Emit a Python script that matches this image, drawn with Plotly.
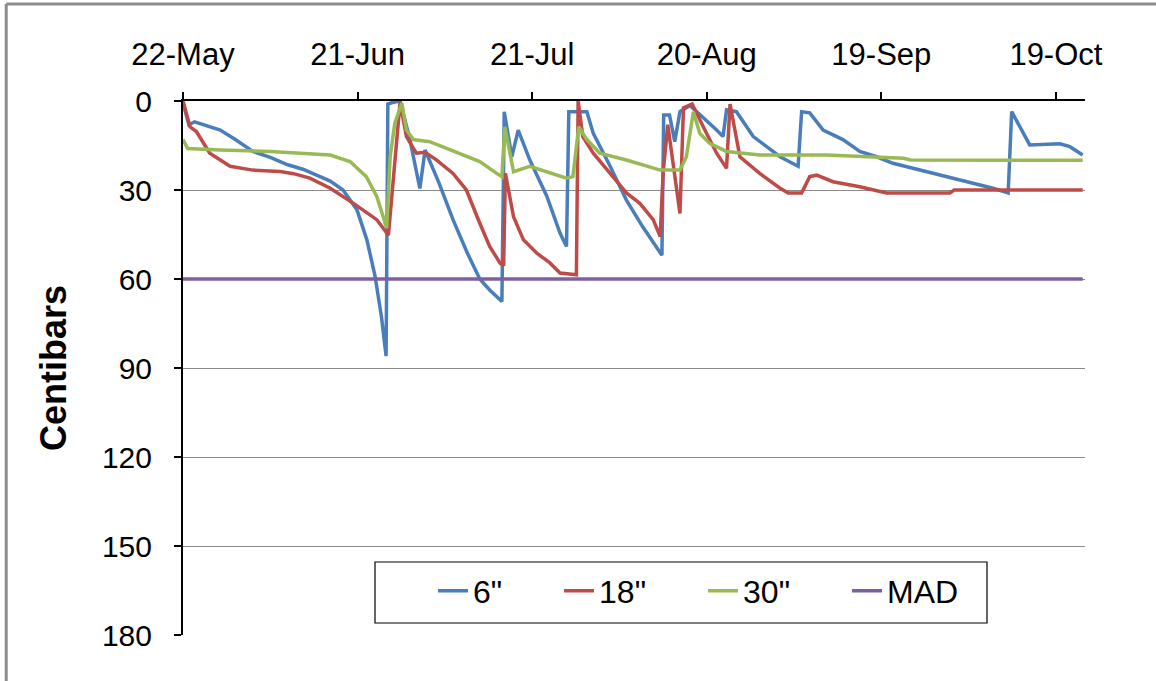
import pandas as pd
import plotly.graph_objects as go

START = "2012-05-22"

# days after 22-May, centibar readings
days_6 = [0, 1, 2, 3.5, 6.4, 9, 12, 15, 18, 20.6, 23, 25.3, 27.5, 29.9, 31.6, 33, 34.1, 34.9,
          35.2, 36, 37.3, 38, 39, 40.7, 41.6, 44, 46.4, 48.8, 51, 52.7, 54.8, 55.2, 56.5, 57.6,
          59.6, 62.5, 64.8, 65.9, 66.3, 69.4, 70.5, 73.4, 76.2, 79, 82, 82.3, 82.6, 83.6, 84.5,
          85.4, 87.1, 89.3, 91.7, 92.8, 93.4, 95.1, 98, 102.6, 105.7, 106.3, 107.7, 110, 113.4,
          116.3, 119.2, 122, 127.8, 133.5, 139.2, 141.8, 142.4, 145.5, 150.7, 152.4, 154.6]
vals_6 = [0.5, 8, 7, 8, 9.8, 13, 17, 19, 21.5, 23, 25, 27, 30, 36.7, 46.8, 59, 72.7, 86,
          1, 0.5, 0, 5, 13, 29.5, 16.5, 27.7, 40, 51, 60, 63.7, 67.6, 3.6, 18.8, 9.8,
          19.9, 32, 44.6, 49, 3.6, 3.6, 10.9, 22, 33.4, 42.4, 51.3, 52, 4.7, 4.7, 13.7,
          3.6, 1.5, 5.3, 9.8, 12, 3, 3.6, 12, 18.8, 22, 3.6, 4, 9.8, 13,
          17, 18.8, 21, 23.8, 26.6, 29.4, 31, 3.6, 14.8, 14.4, 15.4, 18.2]

days_18 = [0, 1.2, 2.3, 4.6, 8.1, 12, 16.7, 19, 21.8, 25.3, 29.3, 33.3, 35.3, 37.3, 38.4, 40.1,
           41.6, 43.6, 46.4, 48.7, 51, 52.7, 54.5, 55.1, 55.4, 56.8, 58.5, 60.8, 63, 64.8, 67.6,
           67.9, 68.7, 70.5, 73.4, 76.2, 78.5, 80.8, 82, 82.5, 83.3, 85.4, 86, 87.5, 89.4, 91.7,
           93.4, 94, 95.7, 99.1, 102.6, 104, 106.3, 107.7, 108.9, 111.7, 116.3, 120.9, 131.8,
           132.5, 154.6]
vals_18 = [0, 8.7, 10.3, 17.6, 22, 23.3, 23.8, 24.5, 26, 29.4, 34.5, 40, 45.2, 0.5, 12, 17.6,
           17.3, 19.9, 24.4, 30, 41.2, 49, 54.7, 55.5, 24.4, 39, 46.8, 51.3, 54.5, 58, 58.6,
           0, 12, 17.6, 24.4, 31, 34.5, 40, 45.7, 24.4, 8, 37.9, 2.3, 1, 8.7, 17.6,
           22.7, 1, 18.8, 24.4, 29.4, 31, 31, 25.5, 25, 27.2, 28.9, 31, 31,
           30, 30]

days_30 = [0, 0.8, 6.4, 15, 25.3, 28.7, 31.5, 33.3, 34.4, 35, 35.6, 36.4, 37.6, 38.4, 39.6, 42.4,
           45.3, 48.2, 51, 53.9, 54.8, 55.3, 56.8, 59.6, 62.5, 65.9, 67, 68, 69.4, 71.6, 76.2,
           82, 85.4, 86.5, 87.7, 88.8, 90.5, 93.4, 99.1, 110.6, 123.8, 125, 154.6]
vals_30 = [13, 16, 16.5, 17, 18.2, 20.4, 25.5, 32.2, 39, 42.9, 18.8, 7.5, 0.7, 9.8, 13, 13.7,
           16, 18.2, 20.4, 24.4, 25.5, 8.7, 23.8, 22, 23.8, 26, 25.5, 8.7, 13, 17.6, 19.9,
           23.3, 23.3, 18.8, 3.6, 10.9, 14.3, 17, 18.2, 18.2, 19.3, 19.9, 20]

days_mad = [0, 154.6]
vals_mad = [60, 60]

series_names = ['6"', '18"', '30"', 'MAD']
series_colors = ["#4A7EBB", "#BE4B48", "#98B954", "#7D60A0"]
legend_widths = [81, 99, 99, 90]
y_ticks = [0, 30, 60, 90, 120, 150, 180]


def to_dates(days):
    return pd.Timestamp(START) + pd.to_timedelta(days, unit="D")


fig = go.Figure()
for name, color, lw, d, v in zip(series_names, series_colors, legend_widths,
                                 [days_6, days_18, days_30, days_mad],
                                 [vals_6, vals_18, vals_30, vals_mad]):
    fig.add_trace(go.Scatter(x=to_dates(d), y=v, mode="lines", name=name,
                             legendwidth=lw, line=dict(color=color, width=3.5)))

FONT = "Liberation Sans, Arial, sans-serif"
fig.update_layout(
    width=1156, height=681,
    margin=dict(l=183, r=71, t=101, b=46),
    paper_bgcolor="white", plot_bgcolor="white",
    font=dict(family=FONT, color="black"),
    showlegend=True,
    legend=dict(orientation="h", x=0.2772, y=0.0825, xanchor="left", yanchor="middle",
                borderwidth=0, bgcolor="rgba(0,0,0,0)",
                font=dict(size=32, family=FONT),
                itemwidth=30, tracegroupgap=0),
    xaxis=dict(
        type="date", side="top",
        range=[START, "2012-10-24"],
        tick0=START, dtick=30 * 86400000, tickformat="%d-%b",
        ticks="outside", ticklen=7, tickcolor="black", tickwidth=1.5,
        showline=True, linecolor="black", linewidth=2,
        showgrid=False, zeroline=False,
        tickfont=dict(size=31, family=FONT), ticklabelstandoff=15,
    ),
    yaxis=dict(
        range=[180, 0], tickvals=y_ticks,
        ticks="outside", ticklen=7, tickcolor="black", tickwidth=1.5,
        showline=True, linecolor="black", linewidth=2,
        showgrid=True, gridcolor="#8a8a8a", gridwidth=1, zeroline=False,
        tickfont=dict(size=30, family=FONT), ticklabelstandoff=16,
        title=dict(text="<b>Centibars</b>", font=dict(size=36, family=FONT), standoff=24),
    ),
    shapes=[
        dict(type="rect", xref="paper", yref="paper",
             x0=(375 - 183) / 902, x1=(987 - 183) / 902,
             y0=(635 - 623) / 534, y1=(635 - 562) / 534,
             fillcolor="white", line=dict(color="black", width=1.2), layer="above"),
        dict(type="line", xref="paper", yref="paper", x0=-0.196, x1=1.2, y0=1.1816, y1=1.1816,
             line=dict(color="#8c8c8c", width=3)),
        dict(type="line", xref="paper", yref="paper", x0=-0.196, x1=-0.196, y0=-0.2, y1=1.1816,
             line=dict(color="#8c8c8c", width=3)),
    ],
)

fig.write_html("out.html", config={"displayModeBar": False},
               post_script="document.body.style.margin='0px';")
